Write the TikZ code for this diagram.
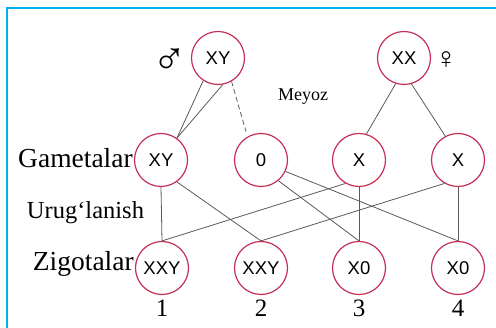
\documentclass[tikz,border=0pt]{standalone}
\usepackage{fontspec}
\setmainfont{Liberation Serif}
\newfontfamily\chromfont{Liberation Sans}
\usetikzlibrary{positioning}
\definecolor{framecyan}{RGB}{0,176,240}
\definecolor{ringred}{RGB}{196,48,86}
\definecolor{linkgray}{RGB}{90,90,90}
\tikzset{
  cell/.style={circle, draw=ringred, line width=1.2pt, fill=white,
               minimum size=53pt, inner sep=0pt, font=\chromfont\fontsize{18.5}{20}\selectfont},
  lab/.style={inner sep=0pt, font=\fontsize{27.5}{30}\selectfont},
  num/.style={inner sep=0pt, font=\fontsize{25}{28}\selectfont},
  sign/.style={inner sep=0pt, font=\fontsize{#1}{#1}\selectfont},
  link/.style={line width=0.8pt, color=linkgray},
  dashlink/.style={link, dash pattern=on 5pt off 3pt},
}

\begin{document}
\begin{tikzpicture}[x=1pt, y=1pt]
  \useasboundingbox (0,0) rectangle (496,328);
  % frame
  \draw[framecyan, line width=2.5pt] (7,0) -- (7,320) -- (496,320);

  % parents
  \node[cell] (mxy) at (218,270) {XY};
  \node[cell] (fxx) at (404,270) {XX};
  \node[sign=46] (male) at (170,266) {♂};
  \node[sign=30] (female) at (446,268) {♀};
  \node[inner sep=0pt, font=\fontsize{18}{20}\selectfont] (mey) at (303,231) {Meyoz};

  % gametes
  \node[cell] (gxy) at (161,168) {XY};
  \node[cell] (g0)  at (261,168) {0};
  \node[cell] (gx1) at (359,168) {X};
  \node[cell] (gx2) at (458,168) {X};

  % zygotes
  \node[cell] (z1) at (162,60) {XXY};
  \node[cell] (z2) at (261,60) {XXY};
  \node[cell] (z3) at (359,60) {X0};
  \node[cell] (z4) at (458,60) {X0};

  % labels
  \node[lab, left=1pt of gxy, yshift=2pt] (gam) {Gametalar};
  \node[lab, font=\fontsize{24.5}{28}\selectfont] (urug) at (85.5,115) {Urug‘lanish};
  \node[lab, left=1pt of z1, yshift=4pt] (zig) {Zigotalar};
  \node[num, below=5pt of z1] (n1) {1};
  \node[num, below=5pt of z2] (n2) {2};
  \node[num, below=5pt of z3] (n3) {3};
  \node[num, below=5pt of z4] (n4) {4};

  % meiosis
  \draw[link] (mxy.237) -- (gxy.54);
  \draw[link] (mxy.280) -- (gxy.54);
  \draw[dashlink, shorten >=5pt] (mxy.300) -- (g0.120);
  \draw[link] (fxx.252) -- (gx1.74);
  \draw[link] (fxx.286) -- (gx2.118);

  % fertilisation
  \draw[link] (gxy.south) -- (z1.north);
  \draw[link] (gxy.-54) -- (z2.north);
  \draw[link] (g0.-50) -- (z3.north);
  \draw[link] (g0.-25) -- (z4.north);
  \draw[link] (gx1.south) -- (z3.north);
  \draw[link] (gx1.240) -- (z1.north);
  \draw[link] (gx2.240) -- (z2.north);
  \draw[link] (gx2.south) -- (z4.north);
\end{tikzpicture}
\end{document}
